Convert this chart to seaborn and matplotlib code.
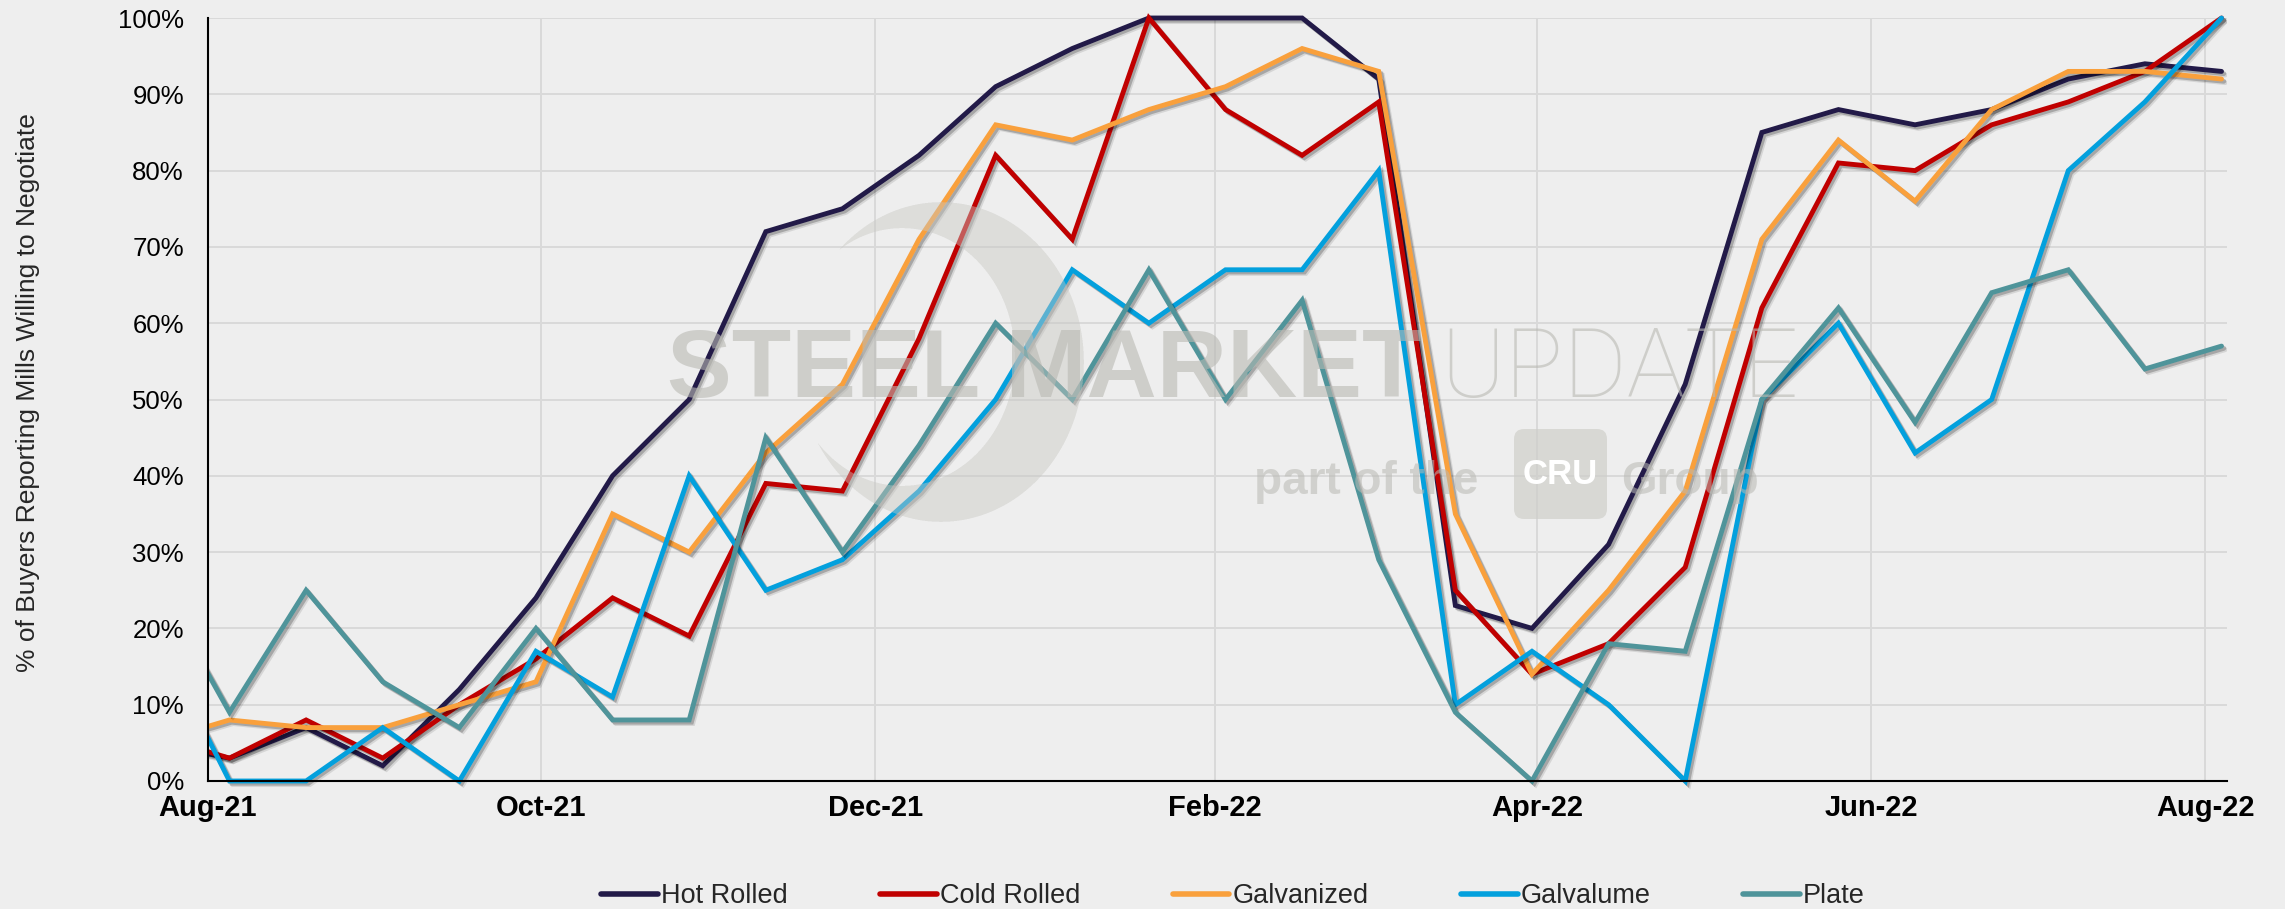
import numpy as np
import pandas as pd
import matplotlib
matplotlib.use("Agg")
import matplotlib.pyplot as plt
import matplotlib.patheffects as pe
import matplotlib.font_manager as fm
from matplotlib.lines import Line2D
from matplotlib.patches import Rectangle, FancyBboxPatch
from matplotlib.transforms import Affine2D
import seaborn as sns

# ---------------- data ----------------
dates = pd.date_range("2021-07-22", periods=28, freq="14D")
hot_rolled = [5, 3, 7, 2, 12, 24, 40, 50, 72, 75, 82, 91, 96, 100, 100, 100, 92, 23, 20, 31, 52, 85, 88, 86, 88, 92, 94, 93]
cold_rolled = [6, 3, 8, 3, 10, 16, 24, 19, 39, 38, 58, 82, 71, 100, 88, 82, 89, 25, 14, 18, 28, 62, 81, 80, 86, 89, 93, 100]
galvanized = [5, 8, 7, 7, 10, 13, 35, 30, 43, 52, 71, 86, 84, 88, 91, 96, 93, 35, 14, 25, 38, 71, 84, 76, 88, 93, 93, 92]
galvalume = [20, 0, 0, 7, 0, 17, 11, 40, 25, 29, 38, 50, 67, 60, 67, 67, 80, 10, 17, 10, 0, 50, 60, 43, 50, 80, 89, 100]
plate = [27, 9, 25, 13, 7, 20, 8, 8, 45, 30, 44, 60, 50, 67, 50, 63, 29, 9, 0, 18, 17, 50, 62, 47, 64, 67, 54, 57]

series_names = ["Hot Rolled", "Cold Rolled", "Galvanized", "Galvalume", "Plate"]
series_values = [hot_rolled, cold_rolled, galvanized, galvalume, plate]
series_colors = ["#221a48", "#c00000", "#f9a03c", "#03a0dd", "#4f949a"]

x_tick_dates = pd.to_datetime(["2021-08-01", "2021-10-01", "2021-12-01", "2022-02-01",
                               "2022-04-01", "2022-06-01", "2022-08-01"])
x_tick_labels = ["Aug-21", "Oct-21", "Dec-21", "Feb-22", "Apr-22", "Jun-22", "Aug-22"]
y_ticks = list(range(0, 101, 10))
y_tick_labels = [f"{v}%" for v in y_ticks]
y_label = "% of Buyers Reporting Mills Willing to Negotiate"

df = pd.concat(
    [pd.DataFrame({"date": dates, "value": vals, "series": name})
     for name, vals in zip(series_names, series_values)],
    ignore_index=True,
)

# ---------------- style ----------------
BG = "#eeeeee"
sns.set_style("white", rc={"axes.facecolor": BG, "figure.facecolor": BG})
names = {f.name for f in fm.fontManager.ttflist}
plt.rcParams["font.family"] = ["Liberation Sans", "DejaVu Sans"]
thin_family = "Roboto" if "Roboto" in names else "Liberation Sans"

W, H = 2285, 909
fig = plt.figure(figsize=(W / 100, H / 100), dpi=100, facecolor=BG)
ax = fig.add_axes([207.6 / W, 1 - 781 / H, (2227 - 207.6) / W, (781 - 18) / H])
ax.set_facecolor(BG)

palette = dict(zip(series_names, series_colors))
sns.lineplot(data=df, x="date", y="value", hue="series", hue_order=series_names,
             palette=palette, linewidth=3.5, estimator=None, sort=False,
             legend=False, ax=ax)

clip_rect = Rectangle((0, -0.04), 1, 1.08, transform=ax.transAxes)
for ln in ax.get_lines():
    ln.set_path_effects([
        pe.SimpleLineShadow(offset=(2.6, -2.6), shadow_color="k", alpha=0.10),
        pe.SimpleLineShadow(offset=(1.6, -1.6), shadow_color="k", alpha=0.22),
        pe.Normal(),
    ])
    ln.set_clip_path(clip_rect)
    ln.set_solid_joinstyle("miter")

ax.set_xlim(pd.Timestamp("2021-08-01"), pd.Timestamp("2022-08-05"))
ax.set_ylim(0, 100)
ax.set_xticks(x_tick_dates)
ax.set_xticklabels(x_tick_labels, fontsize=21, fontweight="bold")
ax.set_yticks(y_ticks)
ax.set_yticklabels(y_tick_labels, fontsize=18.5)
ax.tick_params(axis="x", length=0, pad=9, colors="black")
ax.tick_params(axis="y", length=6, width=1.2, direction="out", pad=11, colors="black")
ax.set_xlabel("")
ax.set_ylabel("")
ax.grid(True, color="#d9d9d9", linewidth=1.4)
ax.set_axisbelow(True)
for s in ["top", "right"]:
    ax.spines[s].set_visible(False)
for s in ["left", "bottom"]:
    ax.spines[s].set_color("black")
    ax.spines[s].set_linewidth(1.5)

fig.text(28 / W, 1 - 392.6 / H, y_label, rotation=90, ha="center", va="center", fontsize=19)

# legend
handles = [Line2D([], [], color=c, lw=4, solid_capstyle="round") for c in series_colors]
fig.legend(handles, series_names, loc="center", bbox_to_anchor=(1233 / W, 1 - 896 / H),
           ncol=5, frameon=False, fontsize=19.5, handlelength=2.1, handletextpad=0.12,
           columnspacing=3.4)

# ---------------- watermark ----------------
T = Affine2D().scale(1 / W, 1 / H) + fig.transFigure
wm_col = "#b9b9b3"
fig.text(667 / W, 1 - 397 / H, "STEEL MARKET", fontsize=70, fontweight="bold",
         color=wm_col, alpha=0.6, ha="left", va="baseline", zorder=20)
fig.text(1440 / W, 1 - 397 / H, "UPDATE", fontsize=70, fontweight="light", family=thin_family,
         color=wm_col, alpha=0.6, ha="left", va="baseline", zorder=20)
fig.text(1254 / W, 1 - 494 / H, "part of the", fontsize=33, fontweight="bold",
         color=wm_col, alpha=0.55, ha="left", va="baseline", zorder=20)
fig.text(1621 / W, 1 - 494 / H, "Group", fontsize=33, fontweight="bold",
         color=wm_col, alpha=0.55, ha="left", va="baseline", zorder=20)
box = FancyBboxPatch((1520, H - 513), 81, 78, boxstyle="round,pad=6,rounding_size=10",
                     transform=T, facecolor="#cfcfca", edgecolor="none", alpha=0.7, zorder=19)
fig.add_artist(box)
fig.text(1560.5 / W, 1 - 474 / H, "CRU", fontsize=25, fontweight="bold", color="white",
         ha="center", va="center", zorder=21)

# crescent swoosh rendered as a translucent raster
ss = 3
x0, x1, y0, y1 = 760, 1100, 190, 535
xs = np.linspace(x0, x1, (x1 - x0) * ss)
ys = np.linspace(y0, y1, (y1 - y0) * ss)
XX, YY = np.meshgrid(xs, ys)
outer = ((XX - 941) / 143) ** 2 + ((YY - 362) / 160) ** 2 <= 1
inner = ((XX - 902) / 113) ** 2 + ((YY - 357) / 129) ** 2 <= 1
mask = (outer & ~inner).astype(float)
mask = mask.reshape(y1 - y0, ss, x1 - x0, ss).mean(axis=(1, 3))
img = np.zeros((y1 - y0, x1 - x0, 4))
img[..., :3] = np.array([200, 200, 195]) / 255
img[..., 3] = mask * 0.45
fig.figimage(img[::-1], xo=x0, yo=H - y1, origin="lower", zorder=15)

fig.savefig("out.png", dpi=100, facecolor=BG)
